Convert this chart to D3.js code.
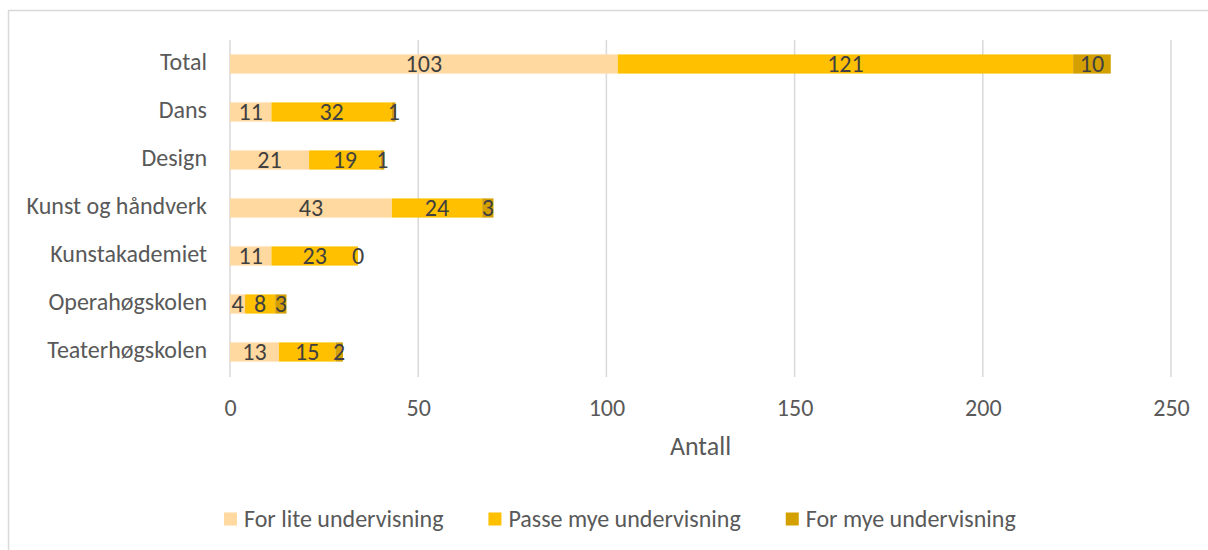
<!DOCTYPE html>
<html><head><meta charset="utf-8">
<script src="https://cdn.jsdelivr.net/npm/d3@7"></script>
<style>
body{margin:0;background:#fff;}
svg{display:block;font-family:Carlito,Calibri,Lato,sans-serif;}
</style></head>
<body><svg id="c" width="1208" height="550"></svg>
<script>
const categories = ["Total","Dans","Design","Kunst og håndverk","Kunstakademiet","Operahøgskolen","Teaterhøgskolen"];
const seriesNames = ["For lite undervisning","Passe mye undervisning","For mye undervisning"];
const forLite = [103,11,21,43,11,4,13];
const passeMye = [121,32,19,24,23,8,15];
const forMye = [10,1,1,3,0,3,2];
const xTicks = [0,50,100,150,200,250];
const colors = ["#FFD9A0","#FFC000","#D4A000"];
const axisTitle = "Antall";

const svg = d3.select("#c");
const txt = "#595959";
// outer border
svg.append("rect").attr("x",8.5).attr("y",10.5).attr("width",1300).attr("height",600)
  .attr("fill","none").attr("stroke","#d9d9d9").attr("stroke-width",1.5);

const x = d3.scaleLinear().domain([0,250]).range([230,1171]);
const y = d3.scaleBand().domain(categories).range([40,376]).paddingInner(0.6).paddingOuter(0.3);

// gridlines
svg.append("g").selectAll("line").data(xTicks).join("line")
  .attr("x1",d=>x(d)).attr("x2",d=>x(d)).attr("y1",40).attr("y2",377)
  .attr("stroke","#d9d9d9").attr("stroke-width",1.5);

// stacked data
const rows = categories.map((c,i)=>({cat:c, v:[forLite[i],passeMye[i],forMye[i]]}));
const stack = d3.stack().keys([0,1,2]).value((d,k)=>d.v[k])(rows);

const g = svg.append("g");
stack.forEach((layer,k)=>{
  g.selectAll(null).data(layer).join("rect")
    .attr("x",d=>x(d[0])).attr("width",d=>x(d[1])-x(d[0]))
    .attr("y",d=>y(d.data.cat)).attr("height",y.bandwidth())
    .attr("fill",colors[k]);
});
stack.forEach((layer,k)=>{
  g.selectAll(null).data(layer).join("text")
    .attr("x",d=>(x(d[0])+x(d[1]))/2).attr("y",d=>y(d.data.cat)+y.bandwidth()/2)
    .attr("dy","0.32em").attr("text-anchor","middle")
    .attr("font-size",24).attr("fill","#404040")
    .text(d=>d.data.v[k]);
});

// category labels
svg.append("g").selectAll("text").data(categories).join("text")
  .attr("x",207).attr("y",d=>y(d)+y.bandwidth()/2).attr("dy","0.26em")
  .attr("text-anchor","end").attr("font-size",24).attr("fill",txt).text(d=>d);

// x axis
const xa = svg.append("g").attr("transform","translate(0,399)")
  .call(d3.axisBottom(x).tickValues(xTicks).tickSize(0).tickPadding(0));
xa.attr("font-family",null).attr("font-size",null);
xa.select(".domain").remove();
xa.selectAll("text").attr("font-size",24).attr("fill",txt).attr("dy","0.71em");

svg.append("text").attr("x",(x(0)+x(250))/2).attr("y",446).attr("dy","0.36em")
  .attr("text-anchor","middle").attr("font-size",26).attr("fill",txt).text(axisTitle);

// legend
const lg = svg.append("g");
let lx = 224;
seriesNames.forEach((n,i)=>{
  lg.append("rect").attr("x",lx).attr("y",512.5).attr("width",13).attr("height",13).attr("fill",colors[i]);
  const t = lg.append("text").attr("x",lx+20).attr("y",518).attr("dy","0.36em")
    .attr("font-size",24).attr("fill",txt).text(n);
  lx += 20 + t.node().getComputedTextLength() + 45;
});
</script></body></html>
